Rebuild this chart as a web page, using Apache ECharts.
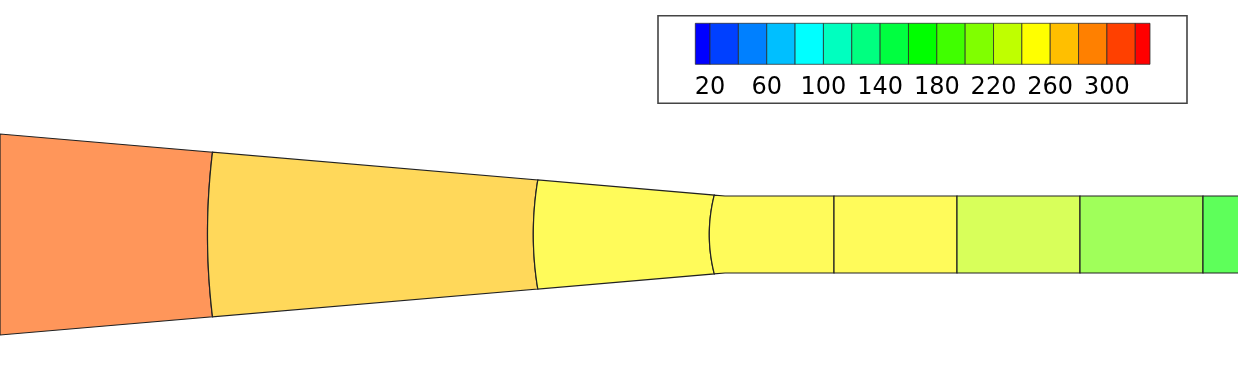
<!DOCTYPE html>
<html><head><meta charset="utf-8">
<script src="https://cdn.jsdelivr.net/npm/echarts@6/dist/echarts.min.js"></script>
<style>html,body{margin:0;padding:0;background:#fff}#c{width:1238px;height:392px}</style>
</head><body><div id="c"></div>
<script>
// ---- geometry of the channel (plot units) ----
const stations = [0, 212.5, 537.8, 714.3, 834, 957, 1080, 1203, 1300];
const seamBulge = [0, 5, 4.5, 5, 0, 0, 0, 0, 0];
const wallX = [0, 725, 1300];
const wallHalf = [100.5, 38.5, 38.5];
// ---- cell values ----
const cellValues = [301, 269, 252, 252, 252, 231, 204, 172];
// ---- colour scale ----
const scaleStops = [10, 90, 170, 250, 330];
const scaleColors = [[0,0,255],[0,255,255],[0,255,0],[255,255,0],[255,0,0]];
const levels = [20,40,60,80,100,120,140,160,180,200,220,240,260,280,300,320];
const tickLabels = [20,60,100,140,180,220,260,300];
const legendRange = [9.6, 330.4];
const fillOpacity = 0.647;

function rgb(c){return 'rgb('+c.map(v=>Math.round(v)).join(',')+')';}
function rainbow(v){
  if (v<=scaleStops[0]) return scaleColors[0].slice();
  for (let i=1;i<scaleStops.length;i++){
    if (v<=scaleStops[i]){
      const t=(v-scaleStops[i-1])/(scaleStops[i]-scaleStops[i-1]);
      return scaleColors[i-1].map((a,k)=>a+(scaleColors[i][k]-a)*t);
    }
  }
  return scaleColors[scaleColors.length-1].slice();
}
function halfAt(x){
  for (let i=1;i<wallX.length;i++){
    if (x<=wallX[i]){
      const t=(x-wallX[i-1])/(wallX[i]-wallX[i-1]);
      return wallHalf[i-1]+(wallHalf[i]-wallHalf[i-1])*t;
    }
  }
  return wallHalf[wallHalf.length-1];
}

const cellData = cellValues.map((v,i)=>[i,v]);
const step = levels[1]-levels[0];
const bandData = [];
for (let k=0;k<=levels.length;k++){
  const lo = k===0 ? levels[0]-step : levels[k-1];
  const hi = k===levels.length ? levels[levels.length-1]+step : levels[k];
  bandData.push([Math.max(lo,legendRange[0]), Math.min(hi,legendRange[1]), (lo+hi)/2]);
}

const N = 30;
function renderCell(params, api){
  const j = api.value(0);
  const xl = stations[j], xr = stations[j+1];
  const pts = [];
  const hl = halfAt(xl), hr = halfAt(xr);
  for (let k=0;k<=N;k++){
    const y = -hl + 2*hl*k/N;
    const x = xl - seamBulge[j]*(1-(y/hl)*(y/hl));
    pts.push(api.coord([x,y]));
  }
  wallX.filter(x=>x>xl && x<xr).forEach(x=>pts.push(api.coord([x, halfAt(x)])));
  for (let k=0;k<=N;k++){
    const y = hr - 2*hr*k/N;
    const x = xr - seamBulge[j+1]*(1-(y/hr)*(y/hr));
    pts.push(api.coord([x,y]));
  }
  wallX.filter(x=>x>xl && x<xr).reverse().forEach(x=>pts.push(api.coord([x, -halfAt(x)])));
  return {type:'polygon', shape:{points:pts},
    style:{fill: api.visual('color'), stroke:'#222', lineWidth:1.2}};
}
function renderBand(params, api){
  const p0 = api.coord([api.value(0), 1]);
  const p1 = api.coord([api.value(1), 0]);
  return {type:'rect', shape:{x:p0[0], y:p0[1], width:p1[0]-p0[0], height:p1[1]-p0[1]},
    style:{fill: rgb(rainbow(api.value(2))), stroke:'rgba(40,40,40,0.75)', lineWidth:1}};
}

const chart = echarts.init(document.getElementById('c'), null, {renderer:'canvas'});
chart.setOption({
  animation:false,
  backgroundColor:'#fff',
  grid:[
    {left:0, right:0, top:0, bottom:0},
    {left:695.3, width:454.7, top:23.3, height:41}
  ],
  xAxis:[
    {type:'value', gridIndex:0, min:0, max:1238, show:false},
    {type:'value', gridIndex:1, min:legendRange[0], max:legendRange[1],
      axisLine:{show:false}, axisTick:{show:false}, splitLine:{show:false},
      axisLabel:{customValues:tickLabels, fontSize:24, color:'#000',
        fontFamily:'DejaVu Sans', margin:23, verticalAlign:'middle'}}
  ],
  yAxis:[
    {type:'value', gridIndex:0, min:-157.5, max:234.5, show:false},
    {type:'value', gridIndex:1, min:0, max:1, show:false}
  ],
  visualMap:[{
    type:'continuous', show:false, seriesIndex:0, dimension:1,
    min:scaleStops[0], max:scaleStops[scaleStops.length-1],
    inRange:{color: scaleColors.map(c=>rgb(c.map(v=>v*fillOpacity+255*(1-fillOpacity))))}
  }],
  graphic:[{type:'rect', shape:{x:658, y:15.7, width:529, height:87.6},
    style:{fill:'none', stroke:'#444', lineWidth:1.6}, z:100}],
  series:[
    {type:'custom', xAxisIndex:0, yAxisIndex:0, renderItem:renderCell, data:cellData, clip:true,
      encode:{x:0, y:1}},
    {type:'custom', xAxisIndex:1, yAxisIndex:1, renderItem:renderBand, data:bandData, clip:false,
      encode:{x:[0,1]}}
  ]
});
</script></body></html>
